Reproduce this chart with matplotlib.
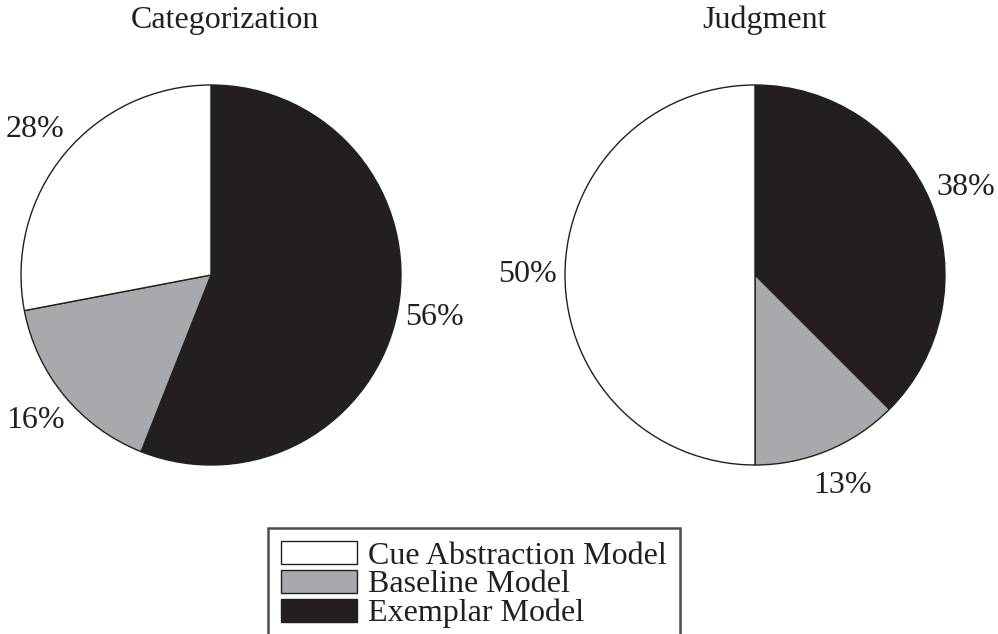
import numpy as np
import matplotlib
matplotlib.use("Agg")
import matplotlib.pyplot as plt

plt.rcParams['font.family'] = ['Liberation Serif', 'DejaVu Serif']

# model order in the pies (clockwise from top)
models = ["Exemplar Model", "Baseline Model", "Cue Abstraction Model"]
colors = ["#231f20", "#a7a9ac", "#ffffff"]

cat_values = [56, 16, 28]
cat_labels = ["56%", "16%", "28%"]
judg_values = [37.5, 12.5, 50]
judg_labels = ["38%", "13%", "50%"]

FS = 23
W, H = 998, 634

fig = plt.figure(figsize=(W / 100, H / 100), dpi=100)

#draws one pie in an axes centred at (cx, cy) pixels from top-left
def draw_pie(cx, cy, r, values, labels):
        ax = fig.add_axes([(cx - r) / W, (H - cy - r) / H, 2 * r / W, 2 * r / H])
        wedges, texts, autotexts = ax.pie(values, colors=colors, startangle=90, counterclock=False,
                                          autopct="%1.0f%%", pctdistance=1.2,
                                          wedgeprops=dict(edgecolor="#231f20", linewidth=1.0))
        for t, lab in zip(autotexts, labels):
                t.set_text(lab)
                t.set_fontsize(FS)
                t.set_color("#231f20")
        ax.set_xlim(-1, 1)
        ax.set_ylim(-1, 1)
        return wedges

wedges = draw_pie(211, 275, 190, cat_values, cat_labels)
draw_pie(755, 275, 190, judg_values, judg_labels)

fig.text(225 / W, (H - 28) / H, "Categorization", ha="center", va="baseline", fontsize=FS, color="#231f20")
fig.text(765 / W, (H - 28) / H, "Judgment", ha="center", va="baseline", fontsize=FS, color="#231f20")

#legend in reverse order
order = [2, 1, 0]
leg = fig.legend([wedges[i] for i in order], [models[i] for i in order],
                 loc="upper left", bbox_to_anchor=(268 / W, (H - 528) / H),
                 fontsize=FS, frameon=True, fancybox=False, borderaxespad=0,
                 borderpad=0.4, handlelength=2.4, handleheight=0.75, handletextpad=0.34,
                 labelspacing=-0.03)
leg.get_frame().set_edgecolor("#231f20")
leg.get_frame().set_linewidth(1.8)
for t in leg.get_texts():
        t.set_color("#231f20")

fig.savefig("out.png", dpi=100)
